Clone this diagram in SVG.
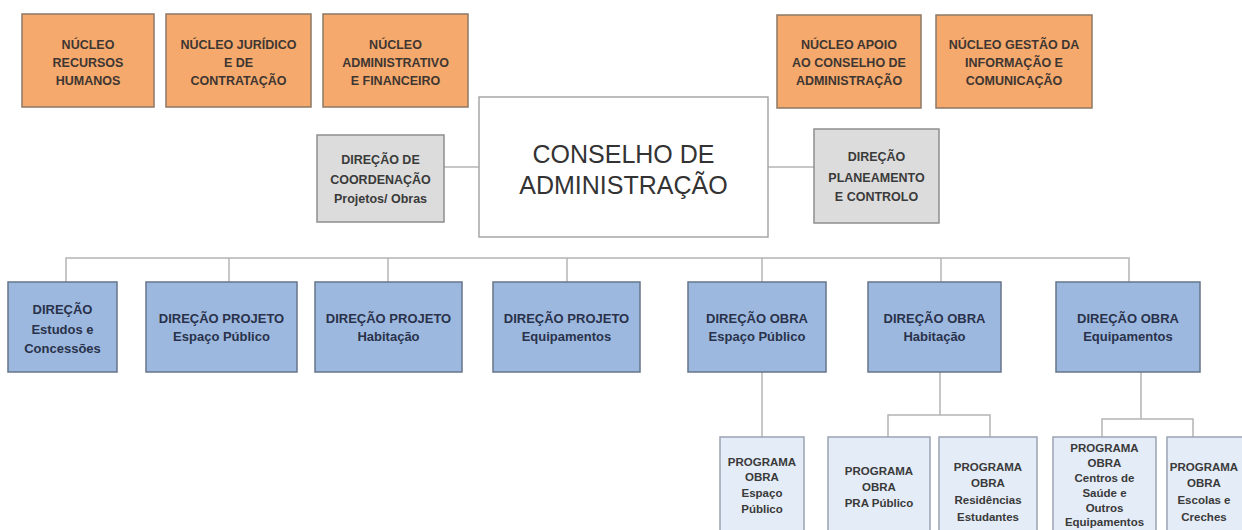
<svg xmlns="http://www.w3.org/2000/svg" width="1242" height="530" viewBox="0 0 1242 530">
<style>
.orange rect{fill:#F5A96C;stroke:#8C7866;stroke-width:1.5}
.orange text{font-family:"Liberation Sans",Arial,sans-serif;font-weight:bold;font-size:12.5px;fill:#3E3632;text-anchor:middle}
.gray rect{fill:#DCDCDC;stroke:#8E8E8E;stroke-width:1.5}
.gray text{font-family:"Liberation Sans",Arial,sans-serif;font-weight:bold;font-size:12.5px;fill:#3A3A3A;text-anchor:middle}
.main rect{fill:#FFFFFF;stroke:#A6A6A6;stroke-width:1.5}
.main text{font-family:"Liberation Sans",Arial,sans-serif;font-size:25px;fill:#333333;text-anchor:middle}
.blue rect{fill:#9DB8DF;stroke:#66758A;stroke-width:1.5}
.blue text{font-family:"Liberation Sans",Arial,sans-serif;font-weight:bold;font-size:13px;fill:#29324A;text-anchor:middle}
.prog rect{fill:#E4ECF7;stroke:#9AA4B2;stroke-width:1.5}
.prog text{font-family:"Liberation Sans",Arial,sans-serif;font-weight:bold;font-size:11.5px;fill:#3A3A3A;text-anchor:middle}
#connectors path{fill:none;stroke:#B4B4B4;stroke-width:1.5}
</style>
<rect width="1242" height="530" fill="#FFFFFF"/>
<g id="connectors">
<path d="M444 167 H479"/>
<path d="M768 167 H814"/>
<path d="M66 282 V258 H1129 V282"/>
<path d="M229 258 V282"/>
<path d="M388 258 V282"/>
<path d="M567 258 V282"/>
<path d="M762 258 V282"/>
<path d="M941 258 V282"/>
<path d="M762 372 V437"/>
<path d="M940 372 V415 M888 437 V415 H990 V437"/>
<path d="M1141 372 V419 M1102 437 V419 H1193 V437"/>
</g>
<g id="n-rh" class="orange"><rect x="22" y="14" width="132" height="93"/><text x="88" y="49">NÚCLEO</text><text x="88" y="67">RECURSOS</text><text x="88" y="85">HUMANOS</text></g>
<g id="n-jur" class="orange"><rect x="166" y="14" width="145" height="93"/><text x="238.5" y="49">NÚCLEO JURÍDICO</text><text x="238.5" y="67">E DE</text><text x="238.5" y="85">CONTRATAÇÃO</text></g>
<g id="n-adm" class="orange"><rect x="323" y="14" width="145" height="93"/><text x="395.5" y="49">NÚCLEO</text><text x="395.5" y="67">ADMINISTRATIVO</text><text x="395.5" y="85">E FINANCEIRO</text></g>
<g id="n-apoio" class="orange"><rect x="777" y="15" width="144" height="93"/><text x="849" y="49">NÚCLEO APOIO</text><text x="849" y="67">AO CONSELHO DE</text><text x="849" y="85">ADMINISTRAÇÃO</text></g>
<g id="n-gestao" class="orange"><rect x="936" y="15" width="156" height="93"/><text x="1014" y="49">NÚCLEO GESTÃO DA</text><text x="1014" y="67">INFORMAÇÃO E</text><text x="1014" y="85">COMUNICAÇÃO</text></g>
<g id="ca" class="main"><rect x="479" y="97" width="289" height="140"/><text x="623.5" y="163">CONSELHO DE</text><text x="623.5" y="194">ADMINISTRAÇÃO</text></g>
<g id="d-coord" class="gray"><rect x="317" y="135" width="127" height="87"/><text x="380.5" y="164">DIREÇÃO DE</text><text x="380.5" y="184">COORDENAÇÃO</text><text x="380.5" y="203">Projetos/ Obras</text></g>
<g id="d-plan" class="gray"><rect x="814" y="129" width="125" height="94"/><text x="876.5" y="161">DIREÇÃO</text><text x="876.5" y="182">PLANEAMENTO</text><text x="876.5" y="201">E CONTROLO</text></g>
<g id="d-estudos" class="blue"><rect x="8" y="282" width="109" height="90"/><text x="62.5" y="314">DIREÇÃO</text><text x="62.5" y="334">Estudos e</text><text x="62.5" y="353">Concessões</text></g>
<g id="d-proj-ep" class="blue"><rect x="146" y="282" width="151" height="90"/><text x="221.5" y="323">DIREÇÃO PROJETO</text><text x="221.5" y="341">Espaço Público</text></g>
<g id="d-proj-hab" class="blue"><rect x="315" y="282" width="147" height="90"/><text x="388.5" y="323">DIREÇÃO PROJETO</text><text x="388.5" y="341">Habitação</text></g>
<g id="d-proj-eq" class="blue"><rect x="493" y="282" width="147" height="90"/><text x="566.5" y="323">DIREÇÃO PROJETO</text><text x="566.5" y="341">Equipamentos</text></g>
<g id="d-obra-ep" class="blue"><rect x="688" y="282" width="138" height="90"/><text x="757" y="323">DIREÇÃO OBRA</text><text x="757" y="341">Espaço Público</text></g>
<g id="d-obra-hab" class="blue"><rect x="868" y="282" width="133" height="90"/><text x="934.5" y="323">DIREÇÃO OBRA</text><text x="934.5" y="341">Habitação</text></g>
<g id="d-obra-eq" class="blue"><rect x="1056" y="282" width="144" height="90"/><text x="1128" y="323">DIREÇÃO OBRA</text><text x="1128" y="341">Equipamentos</text></g>
<g id="p-ep" class="prog"><rect x="720" y="437" width="84" height="100"/><text x="762" y="466">PROGRAMA</text><text x="762" y="481">OBRA</text><text x="762" y="497">Espaço</text><text x="762" y="513">Público</text></g>
<g id="p-pra" class="prog"><rect x="828" y="437" width="102" height="100"/><text x="879" y="475">PROGRAMA</text><text x="879" y="491">OBRA</text><text x="879" y="507">PRA Público</text></g>
<g id="p-res" class="prog"><rect x="939" y="437" width="98" height="100"/><text x="988" y="471">PROGRAMA</text><text x="988" y="487">OBRA</text><text x="988" y="504">Residências</text><text x="988" y="521">Estudantes</text></g>
<g id="p-saude" class="prog"><rect x="1053" y="437" width="103" height="100"/><text x="1104.5" y="452">PROGRAMA</text><text x="1104.5" y="467">OBRA</text><text x="1104.5" y="482">Centros de</text><text x="1104.5" y="497">Saúde e</text><text x="1104.5" y="512">Outros</text><text x="1104.5" y="526" font-size="11px">Equipamentos</text></g>
<g id="p-escolas" class="prog"><rect x="1167" y="437" width="80" height="100"/><text x="1204" y="471">PROGRAMA</text><text x="1204" y="487">OBRA</text><text x="1204" y="504">Escolas e</text><text x="1204" y="521">Creches</text></g>
</svg>
